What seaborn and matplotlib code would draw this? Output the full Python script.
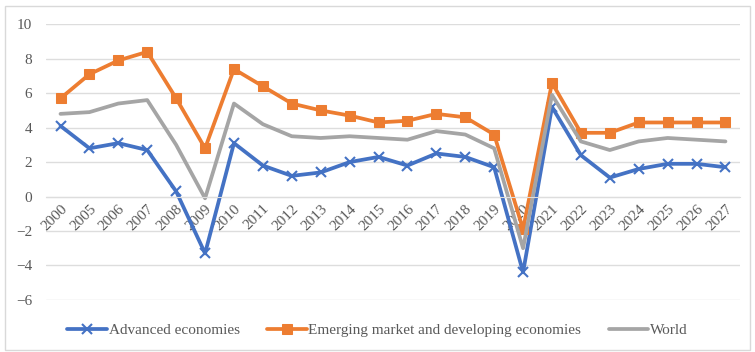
import numpy as np
import pandas as pd
import matplotlib
matplotlib.use('Agg')
import matplotlib.pyplot as plt
import seaborn as sns

sns.set_style("white")
plt.rcParams['font.family'] = ['Liberation Serif', 'DejaVu Serif']

# ====================== DATA ======================
years = ['2000', '2005', '2006', '2007', '2008', '2009', '2010', '2011', '2012', '2013',
         '2014', '2015', '2016', '2017', '2018', '2019', '2020', '2021', '2022', '2023',
         '2024', '2025', '2026', '2027']
advanced = [4.1, 2.8, 3.1, 2.7, 0.3, -3.3, 3.1, 1.8, 1.2, 1.4,
            2.0, 2.3, 1.8, 2.5, 2.3, 1.7, -4.4, 5.2, 2.4, 1.1,
            1.6, 1.9, 1.9, 1.7]
emerging = [5.7, 7.1, 7.9, 8.4, 5.7, 2.8, 7.4, 6.4, 5.4, 5.0,
            4.7, 4.3, 4.4, 4.8, 4.6, 3.6, -1.9, 6.6, 3.7, 3.7,
            4.3, 4.3, 4.3, 4.3]
world = [4.8, 4.9, 5.4, 5.6, 3.0, -0.1, 5.4, 4.2, 3.5, 3.4,
         3.5, 3.4, 3.3, 3.8, 3.6, 2.8, -3.0, 5.9, 3.2, 2.7,
         3.2, 3.4, 3.3, 3.2]

series_names = ['Advanced economies', 'Emerging market and developing economies', 'World']
colors = ['#4472C4', '#ED7D31', '#A5A5A5']
markers = ['x', 's', None]

df = pd.DataFrame({'pos': np.arange(len(years)), 'year': years,
                   series_names[0]: advanced, series_names[1]: emerging, series_names[2]: world})

# ====================== PLOT ======================
fig = plt.figure(figsize=(7.55, 3.52), dpi=100)
ax = fig.add_axes([0.061, 0.148, 0.919, 0.783])

for name, col, mk in zip(series_names, colors, markers):
    kw = {}
    if mk == 'x':
        kw = dict(marker='x', markersize=7, markeredgewidth=1.5, markeredgecolor=col)
    elif mk == 's':
        kw = dict(marker='s', markersize=6.5, markeredgecolor=col)
    sns.lineplot(data=df, x='pos', y=name, ax=ax, color=col, lw=2.7, label=name, **kw)

ax.set_xlim(-0.5, len(years) - 0.5)
ax.set_ylim(-6, 10)
ax.set_yticks(range(-6, 11, 2))
ax.yaxis.grid(True, color='#DDDDDD', lw=1)
ax.set_axisbelow(True)
for s in ax.spines.values():
    s.set_visible(False)
ax.spines['bottom'].set_position(('data', 0))
ax.spines['bottom'].set_visible(True)
ax.spines['bottom'].set_color('#DDDDDD')
ax.set_xticks(df['pos'])
ax.set_xticklabels(years, rotation=45, ha='right', rotation_mode='anchor')
ax.tick_params(axis='both', length=0, labelsize=11, labelcolor='#595959')
ax.tick_params(axis='x', pad=4)
ax.tick_params(axis='y', pad=10)
ax.set_xlabel('')
ax.set_ylabel('')

ax.legend_.remove()
h, l = ax.get_legend_handles_labels()
fig.legend(h, l, loc='center', bbox_to_anchor=(0.5, 0.062), ncol=3, frameon=False,
           fontsize=11, labelcolor='#595959', handlelength=2.6, handletextpad=0.1,
           columnspacing=1.8)

# outer chart border
fig.add_artist(plt.Rectangle((0.007, 0.006), 0.986, 0.978, transform=fig.transFigure,
                             fill=False, edgecolor='#D9D9D9', lw=1))

plt.savefig('out.png', dpi=100)
